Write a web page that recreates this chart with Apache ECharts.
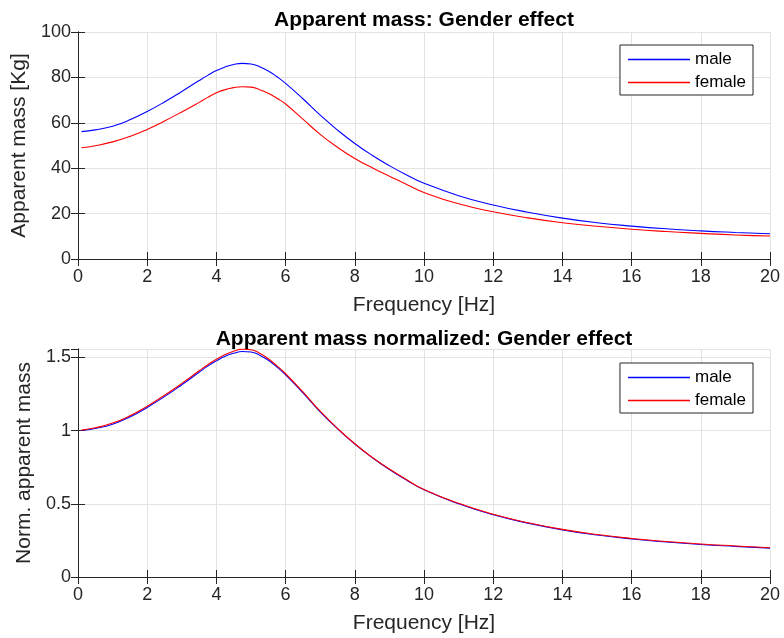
<!DOCTYPE html>
<html>
<head>
<meta charset="utf-8">
<script src="https://cdn.jsdelivr.net/npm/echarts@6/dist/echarts.min.js"></script>
<style>html,body{margin:0;padding:0;background:#fff}#c{width:784px;height:638px}</style>
</head>
<body>
<div id="c"></div>
<script>
// ---- data ----
const freq = [0.1,0.5,1,1.5,2,2.5,3,3.5,3.75,4,4.25,4.5,4.75,5,5.25,5.5,5.75,6,6.5,7,7.5,8,8.5,9,9.5,10,11,12,13,14,15,16,17,18,19,20];
const massMale = [56.1,56.9,58.5,61.3,65.0,69.2,73.8,78.6,80.9,83.0,84.6,85.7,86.2,85.9,84.7,82.8,80.3,77.4,70.6,63.4,56.8,50.9,45.7,41.1,37.0,33.4,27.9,23.8,20.6,18.0,16.0,14.5,13.3,12.4,11.7,11.1];
const massFemale = [49.0,49.9,51.6,54.0,57.1,60.8,64.8,69.0,71.2,73.2,74.6,75.5,75.9,75.7,74.6,73.0,70.8,68.3,61.6,54.9,49.2,44.3,40.2,36.5,32.8,29.3,24.3,20.8,18.1,16.0,14.4,13.1,12.1,11.3,10.6,10.1];
const normMale = [1.000,1.014,1.043,1.093,1.158,1.232,1.313,1.398,1.440,1.476,1.507,1.528,1.540,1.536,1.515,1.480,1.434,1.380,1.258,1.128,1.012,0.908,0.816,0.734,0.661,0.595,0.500,0.425,0.368,0.322,0.287,0.260,0.239,0.222,0.209,0.197];
const normFemale = [1.003,1.019,1.051,1.101,1.166,1.241,1.322,1.408,1.450,1.487,1.519,1.542,1.556,1.552,1.528,1.490,1.442,1.388,1.264,1.132,1.015,0.910,0.818,0.737,0.664,0.598,0.503,0.428,0.371,0.325,0.290,0.263,0.242,0.225,0.212,0.200];
const seriesNames = ['male', 'female'];
const titles = ['Apparent mass: Gender effect', 'Apparent mass normalized: Gender effect'];
const yNames = ['Apparent mass [Kg]', 'Norm. apparent mass'];
const xName = 'Frequency [Hz]';

const FONT = '"Liberation Sans", Helvetica, Arial, sans-serif';
const AX = '#262626';
const GRIDC = '#e3e3e3';
const zip = (xs, ys) => xs.map((x, i) => [x, ys[i]]);

const chart = echarts.init(document.getElementById('c'), null, {renderer: 'canvas'});

function xAxes(gi) {
  return [{
    type: 'value', gridIndex: gi, min: 0, max: 20, interval: 2, position: 'bottom',
    name: xName, nameLocation: 'middle', nameGap: 36,
    nameTextStyle: {fontFamily: FONT, fontSize: 21, color: AX},
    axisLine: {show: true, lineStyle: {color: AX, width: 1}},
    axisTick: {show: true, inside: true, length: 7, lineStyle: {color: AX}},
    axisLabel: {fontFamily: FONT, fontSize: 18, color: AX, margin: 9},
    splitLine: {show: true, lineStyle: {color: GRIDC, width: 1}}
  }, {
    type: 'value', gridIndex: gi, min: 0, max: 20, interval: 2, position: 'top',
    axisLine: {show: true, lineStyle: {color: AX, width: 1}},
    axisTick: {show: true, inside: true, length: 7, lineStyle: {color: AX}},
    axisLabel: {show: false}, splitLine: {show: false}
  }];
}
function yAxes(gi, max, interval, name, gap) {
  return [{
    type: 'value', gridIndex: gi, min: 0, max: max, interval: interval, position: 'left',
    name: name, nameLocation: 'middle', nameGap: gap,
    nameTextStyle: {fontFamily: FONT, fontSize: 21, color: AX},
    axisLine: {show: true, lineStyle: {color: AX, width: 1}},
    axisTick: {show: true, inside: true, length: 7, lineStyle: {color: AX}},
    axisLabel: {fontFamily: FONT, fontSize: 18, color: AX, margin: 7, showMaxLabel: max % interval === 0},
    splitLine: {show: true, lineStyle: {color: GRIDC, width: 1}}
  }, {
    type: 'value', gridIndex: gi, min: 0, max: max, interval: interval, position: 'right',
    axisLine: {show: true, lineStyle: {color: AX, width: 1}},
    axisTick: {show: true, inside: true, length: 7, lineStyle: {color: AX}},
    axisLabel: {show: false}, splitLine: {show: false}
  }];
}
function legend(top) {
  return {
    data: seriesNames, orient: 'vertical', right: 31, top: top,
    padding: [6, 7, 4, 8], itemGap: 6, itemWidth: 62, itemHeight: 1.5, icon: 'rect',
    borderColor: AX, borderWidth: 1, backgroundColor: '#fff',
    textStyle: {fontFamily: FONT, fontSize: 17, color: '#000', lineHeight: 17, padding: [0, 0, 0, 0]},
    selectedMode: false
  };
}
function line(name, color, xi, yi, ys) {
  return {
    type: 'line', name: name, xAxisIndex: xi, yAxisIndex: yi,
    data: zip(freq, ys), showSymbol: false, smooth: 0.5,
    lineStyle: {color: color, width: 1.1}, itemStyle: {color: color},
    animation: false, z: 3
  };
}

chart.setOption({
  animation: false,
  backgroundColor: '#fff',
  title: [
    {text: titles[0], left: 419, textAlign: 'center', top: 5,
     textStyle: {fontFamily: FONT, fontSize: 21, fontWeight: 'bold', color: '#000'}},
    {text: titles[1], left: 419, textAlign: 'center', top: 324,
     textStyle: {fontFamily: FONT, fontSize: 21, fontWeight: 'bold', color: '#000'}}
  ],
  grid: [
    {left: 78, right: 14, top: 32, height: 227},
    {left: 78, right: 14, top: 349, height: 228}
  ],
  xAxis: [...xAxes(0), ...xAxes(1)],
  yAxis: [...yAxes(0, 100, 20, yNames[0], 41), ...yAxes(1, 1.557, 0.5, yNames[1], 37)],
  legend: [legend(45), legend(363)],
  series: [
    line(seriesNames[0], '#0000ff', 0, 0, massMale),
    line(seriesNames[1], '#ff0000', 0, 0, massFemale),
    line(seriesNames[0], '#0000ff', 2, 2, normMale),
    line(seriesNames[1], '#ff0000', 2, 2, normFemale)
  ]
});
</script>
</body>
</html>
